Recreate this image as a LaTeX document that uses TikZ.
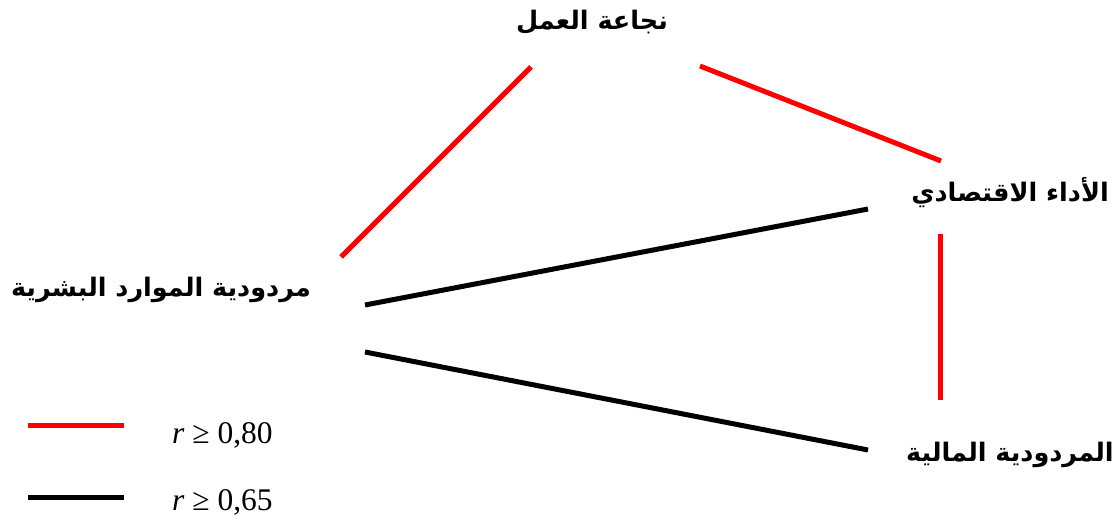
\documentclass[tikz,border=0pt]{standalone}
\usepackage{fontspec}
\setmainfont{Liberation Serif}
\newfontfamily\arabicfont[Script=Arabic]{DejaVu Sans}
\TeXXeTstate=1
\begin{document}
\begin{tikzpicture}[x=1pt,y=-1pt,
  lab/.style={font=\arabicfont\bfseries\fontsize{25.5}{28}\selectfont, inner sep=0pt},
  leg/.style={font=\fontsize{31.5}{34}\selectfont, inner sep=0pt, anchor=west},
  redline/.style={draw=red, line width=5pt},
  blackline/.style={draw=black, line width=5pt}]
\useasboundingbox (0,0) rectangle (1116,522);
\node[lab] (najaa) at (592,22) {\beginR نجاعة العمل\endR};
\node[lab] (adaa) at (1010,193) {\beginR الأداء الاقتصادي\endR};
\node[lab] (hr) at (161,290) {\beginR مردودية الموارد البشرية\endR};
\node[lab] (fin) at (1010,455) {\beginR المردودية المالية\endR};
\coordinate (n1) at (531,67);
\coordinate (n2) at (700,66);
\coordinate (h1) at (341,257);
\coordinate (h2) at (365,305);
\coordinate (h3) at (365,352);
\coordinate (a1) at (941,161);
\coordinate (a2) at (868,209);
\coordinate (a3) at (940,234);
\coordinate (f1) at (940,400);
\coordinate (f2) at (868,450);
\draw[redline] (n1) -- (h1);
\draw[redline] (n2) -- (a1);
\draw[redline] (a3) -- (f1);
\draw[blackline] (h2) -- (a2);
\draw[blackline] (h3) -- (f2);
\coordinate (lr1) at (28,425);
\coordinate (lr2) at (124,425);
\coordinate (lb1) at (28,497);
\coordinate (lb2) at (124,497);
\draw[redline] (lr1) -- (lr2);
\draw[blackline] (lb1) -- (lb2);
\node[leg] (t1) at (172,435) {\textit{r} ≥ 0,80};
\node[leg] (t2) at (172,502) {\textit{r} ≥ 0,65};
\end{tikzpicture}
\end{document}
